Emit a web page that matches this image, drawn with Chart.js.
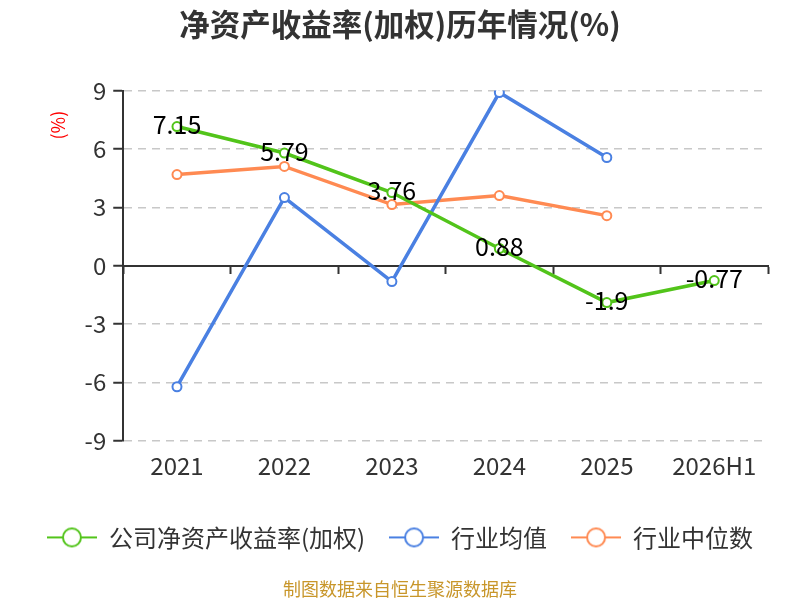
<!DOCTYPE html>
<html>
<head>
<meta charset="utf-8">
<script src="https://cdn.jsdelivr.net/npm/chart.js@4.4.1/dist/chart.umd.min.js"></script>
<style>
  html, body { margin: 0; padding: 0; background: #fff; }
  #wrap { width: 800px; height: 600px; position: relative; }
</style>
</head>
<body>
<div id="wrap"><canvas id="roe-chart"></canvas></div>
<script>
// Data
const years = ['2021', '2022', '2023', '2024', '2025', '2026H1'];
const companyRoe = [7.15, 5.79, 3.76, 0.88, -1.9, -0.77];
const industryAvg = [-6.23, 3.5, -0.82, 8.9, 5.56, null];
const industryMedian = [4.68, 5.1, 3.14, 3.6, 2.57, null];
const yTicks = [-9, -6, -3, 0, 3, 6, 9];

const seriesNames = ['公司净资产收益率(加权)', '行业均值', '行业中位数'];
const greenColor = '#52c41a';
const blueColor = '#4a80e2';
const orangeColor = '#ff8a52';
const fontFamily = '"Noto Sans CJK SC", "Noto Sans", sans-serif';

// legend icon: a short line with a hollow circle on it
function legendIcon(color) {
    const c = document.createElement('canvas');
    c.width = 50;
    c.height = 22;
    const g = c.getContext('2d');
    g.strokeStyle = color;
    g.lineWidth = 2;
    g.beginPath();
    g.moveTo(0, 11);
    g.lineTo(50, 11);
    g.stroke();
    g.fillStyle = '#fff';
    g.beginPath();
    g.arc(25, 11, 9, 0, Math.PI * 2);
    g.fill();
    g.stroke();
    return c;
}

// draw the value labels of the first series right on its points
const valueLabels = {
    id: 'valueLabels',
    afterDatasetsDraw(chart) {
        const ctx = chart.ctx;
        const meta = chart.getDatasetMeta(0);
        ctx.save();
        ctx.font = '25px ' + fontFamily;
        ctx.fillStyle = '#000';
        ctx.textAlign = 'center';
        ctx.textBaseline = 'middle';
        meta.data.forEach((pt, i) => {
            const v = companyRoe[i];
            if (v === null) return;
            ctx.fillText(String(v), pt.x, pt.y - 2);
        });
        ctx.restore();
    }
};

function makeSet(label, data, color) {
    return {
        label: label,
        data: data,
        borderColor: color,
        backgroundColor: '#fff',
        borderWidth: 3.5,
        pointRadius: 4.5,
        pointBorderWidth: 2,
        pointBackgroundColor: '#fff',
        pointBorderColor: color,
        tension: 0,
        spanGaps: false
    };
}

const ctx = document.getElementById('roe-chart').getContext('2d');
const icons = [legendIcon(greenColor), legendIcon(blueColor), legendIcon(orangeColor)];

new Chart(ctx, {
    type: 'line',
    data: {
        labels: years,
        datasets: [
            makeSet(seriesNames[0], companyRoe, greenColor),
            makeSet(seriesNames[1], industryAvg, blueColor),
            makeSet(seriesNames[2], industryMedian, orangeColor)
        ]
    },
    options: {
        responsive: true,
        maintainAspectRatio: false,
        animation: false,
        layout: { padding: { left: 0, right: 0, top: 4, bottom: 0 } },
        scales: {
            x: {
                offset: true,
                grid: { display: false, drawTicks: false },
                border: { display: false },
                ticks: {
                    color: '#333',
                    padding: 11,
                    font: { size: 24, family: fontFamily }
                },
                // extra room between the year labels and the legend
                afterFit: axis => { axis.height += 10; }
            },
            // axis line through zero with ticks between the categories
            xZero: {
                type: 'category',
                labels: years,
                offset: true,
                position: { y: 0 },
                grid: {
                    offset: true,
                    drawOnChartArea: false,
                    drawTicks: true,
                    tickLength: 7,
                    tickColor: '#333',
                    tickWidth: 2
                },
                border: { display: true, color: '#333', width: 2 },
                ticks: { display: false }
            },
            y: {
                min: -9,
                max: 9,
                afterBuildTicks: axis => {
                    axis.ticks = yTicks.map(v => ({ value: v }));
                },
                grid: {
                    color: ctx => ctx.tick && ctx.tick.value === 0 ? 'rgba(0,0,0,0)' : '#c8c8c8',
                    lineWidth: 1.5,
                    drawTicks: true,
                    tickLength: 10,
                    tickColor: '#333',
                    tickWidth: 2
                },
                border: { display: true, color: '#333', width: 2, dash: [8, 6] },
                ticks: {
                    color: '#333',
                    padding: 7,
                    font: { size: 24, family: fontFamily }
                },
                title: {
                    display: true,
                    text: '(%)     ',
                    color: '#f00',
                    align: 'end',
                    padding: { top: 47, bottom: 9 },
                    font: { size: 18, family: fontFamily }
                }
            },
            // empty right-hand axis, only keeps a margin right of the plot
            yPad: {
                position: 'right',
                display: true,
                grid: { display: false, drawTicks: false },
                border: { display: false },
                ticks: { display: false },
                afterFit: axis => { axis.width = 32; }
            }
        },
        plugins: {
            title: {
                display: true,
                text: '净资产收益率(加权)历年情况(%)',
                color: '#333',
                padding: { top: 2, bottom: 48 },
                font: { size: 30.5, weight: 'bold', family: fontFamily }
            },
            subtitle: {
                display: true,
                position: 'bottom',
                text: '制图数据来自恒生聚源数据库',
                color: '#c8962a',
                padding: { top: 19, bottom: 0 },
                font: { size: 18, family: fontFamily }
            },
            legend: {
                position: 'bottom',
                labels: {
                    color: '#333',
                    usePointStyle: true,
                    pointStyleWidth: 50,
                    padding: 24,
                    font: { size: 24, family: fontFamily },
                    generateLabels: chart => chart.data.datasets.map((ds, i) => ({
                        text: ds.label,
                        pointStyle: icons[i],
                        fontColor: '#333',
                        lineWidth: 0,
                        hidden: false,
                        datasetIndex: i
                    }))
                }
            },
            tooltip: { enabled: false }
        }
    },
    plugins: [valueLabels]
});
</script>
</body>
</html>
